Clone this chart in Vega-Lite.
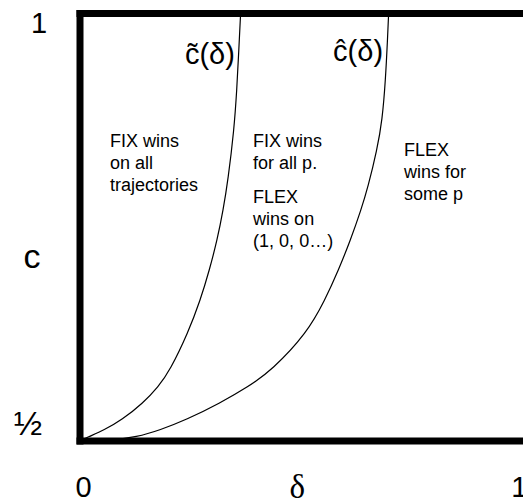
{
  "$schema": "https://vega.github.io/schema/vega-lite/v6.json",
  "width": 443,
  "height": 427.5,
  "autosize": {"type": "none"},
  "padding": {"left": 80, "top": 13.5, "right": 0, "bottom": 62},
  "background": "white",
  "config": {"view": {"stroke": null}, "font": "Liberation Sans"},
  "datasets": {
    "curves": [
      {"curve": "tilde", "i": 1, "delta": 0.0, "c": 0.5},
      {"curve": "tilde", "i": 2, "delta": 0.0157, "c": 0.5041},
      {"curve": "tilde", "i": 3, "delta": 0.0546, "c": 0.5129},
      {"curve": "tilde", "i": 4, "delta": 0.0939, "c": 0.5246},
      {"curve": "tilde", "i": 5, "delta": 0.1416, "c": 0.5444},
      {"curve": "tilde", "i": 6, "delta": 0.1757, "c": 0.5632},
      {"curve": "tilde", "i": 7, "delta": 0.2025, "c": 0.583},
      {"curve": "tilde", "i": 8, "delta": 0.2425, "c": 0.6263},
      {"curve": "tilde", "i": 9, "delta": 0.2706, "c": 0.6649},
      {"curve": "tilde", "i": 10, "delta": 0.2908, "c": 0.7},
      {"curve": "tilde", "i": 11, "delta": 0.3083, "c": 0.7351},
      {"curve": "tilde", "i": 12, "delta": 0.3218, "c": 0.7702},
      {"curve": "tilde", "i": 13, "delta": 0.3326, "c": 0.8053},
      {"curve": "tilde", "i": 14, "delta": 0.3461, "c": 0.8637},
      {"curve": "tilde", "i": 15, "delta": 0.3524, "c": 0.9105},
      {"curve": "tilde", "i": 16, "delta": 0.3569, "c": 0.9573},
      {"curve": "tilde", "i": 17, "delta": 0.3609, "c": 1.0},
      {"curve": "hat", "i": 1, "delta": 0.0, "c": 0.5},
      {"curve": "hat", "i": 2, "delta": 0.0674, "c": 0.5006},
      {"curve": "hat", "i": 3, "delta": 0.1281, "c": 0.5047},
      {"curve": "hat", "i": 4, "delta": 0.1798, "c": 0.5129},
      {"curve": "hat", "i": 5, "delta": 0.2382, "c": 0.5246},
      {"curve": "hat", "i": 6, "delta": 0.3146, "c": 0.5444},
      {"curve": "hat", "i": 7, "delta": 0.3775, "c": 0.5632},
      {"curve": "hat", "i": 8, "delta": 0.4315, "c": 0.583},
      {"curve": "hat", "i": 9, "delta": 0.5101, "c": 0.6263},
      {"curve": "hat", "i": 10, "delta": 0.5506, "c": 0.6649},
      {"curve": "hat", "i": 11, "delta": 0.5809, "c": 0.7},
      {"curve": "hat", "i": 12, "delta": 0.6079, "c": 0.7351},
      {"curve": "hat", "i": 13, "delta": 0.6315, "c": 0.7702},
      {"curve": "hat", "i": 14, "delta": 0.6472, "c": 0.7971},
      {"curve": "hat", "i": 15, "delta": 0.6674, "c": 0.8404},
      {"curve": "hat", "i": 16, "delta": 0.6793, "c": 0.8754},
      {"curve": "hat", "i": 17, "delta": 0.6865, "c": 0.9222},
      {"curve": "hat", "i": 18, "delta": 0.691, "c": 0.969},
      {"curve": "hat", "i": 19, "delta": 0.6935, "c": 1.0}
    ]
  },
  "layer": [
    {
      "data": {"name": "curves"},
      "mark": {"type": "line", "color": "black", "strokeWidth": 1.2, "interpolate": "basis"},
      "encoding": {
        "x": {"field": "delta", "type": "quantitative", "scale": {"domain": [0, 0.9955], "nice": false, "zero": false}, "axis": null},
        "y": {"field": "c", "type": "quantitative", "scale": {"domain": [0.5, 1], "nice": false, "zero": false}, "axis": null},
        "detail": {"field": "curve"},
        "order": {"field": "i", "type": "quantitative"}
      }
    },
    {
      "data": {"values": [
        {"x": 0, "y": 0.5, "x2": 0, "y2": 1},
        {"x": 0, "y": 1, "x2": 1.0, "y2": 1},
        {"x": 0, "y": 0.5, "x2": 1.0, "y2": 0.5}
      ]},
      "mark": {"type": "rule", "color": "black", "strokeWidth": 7, "strokeCap": "square"},
      "encoding": {
        "x": {"field": "x", "type": "quantitative"},
        "y": {"field": "y", "type": "quantitative"},
        "x2": {"field": "x2"},
        "y2": {"field": "y2"}
      }
    },
    {
      "data": {"values": [
        {"t": "FIX wins\non all\ntrajectories", "x": 0.0674, "y": 0.8439},
        {"t": "FIX wins\nfor all p.", "x": 0.389, "y": 0.8439},
        {"t": "FLEX\nwins on\n(1, 0, 0…)", "x": 0.389, "y": 0.7784},
        {"t": "FLEX\nwins for\nsome p", "x": 0.728, "y": 0.8333}
      ]},
      "mark": {"type": "text", "fontSize": 18, "align": "left", "baseline": "alphabetic", "lineBreak": "\n", "lineHeight": 22, "color": "black"},
      "encoding": {
        "x": {"field": "x", "type": "quantitative"},
        "y": {"field": "y", "type": "quantitative"},
        "text": {"field": "t"}
      }
    },
    {
      "data": {"values": [
        {"t": "c\u0303(δ)", "x": 0.348, "y": 0.9409},
        {"t": "ĉ(δ)", "x": 0.681, "y": 0.9444}
      ]},
      "mark": {"type": "text", "fontSize": 29, "align": "right", "baseline": "alphabetic", "color": "black"},
      "encoding": {
        "x": {"field": "x", "type": "quantitative"},
        "y": {"field": "y", "type": "quantitative"},
        "text": {"field": "t"}
      }
    },
    {
      "data": {"values": [
        {"t": "1", "x": -0.092, "y": 0.9772},
        {"t": "0", "x": 0.008, "y": 0.4345},
        {"t": "1", "x": 0.987, "y": 0.4345}
      ]},
      "mark": {"type": "text", "fontSize": 29, "align": "center", "baseline": "alphabetic", "color": "black"},
      "encoding": {
        "x": {"field": "x", "type": "quantitative"},
        "y": {"field": "y", "type": "quantitative"},
        "text": {"field": "t"}
      }
    },
    {
      "data": {"values": [
        {"t": "c", "x": -0.108, "y": 0.7023},
        {"t": "½", "x": -0.117, "y": 0.507}
      ]},
      "mark": {"type": "text", "fontSize": 34, "align": "center", "baseline": "alphabetic", "color": "black"},
      "encoding": {
        "x": {"field": "x", "type": "quantitative"},
        "y": {"field": "y", "type": "quantitative"},
        "text": {"field": "t"}
      }
    },
    {
      "data": {"values": [
        {"t": "δ", "x": 0.488, "y": 0.4335}
      ]},
      "mark": {"type": "text", "fontSize": 33, "font": "Liberation Serif", "align": "center", "baseline": "alphabetic", "color": "black"},
      "encoding": {
        "x": {"field": "x", "type": "quantitative"},
        "y": {"field": "y", "type": "quantitative"},
        "text": {"field": "t"}
      }
    }
  ]
}
